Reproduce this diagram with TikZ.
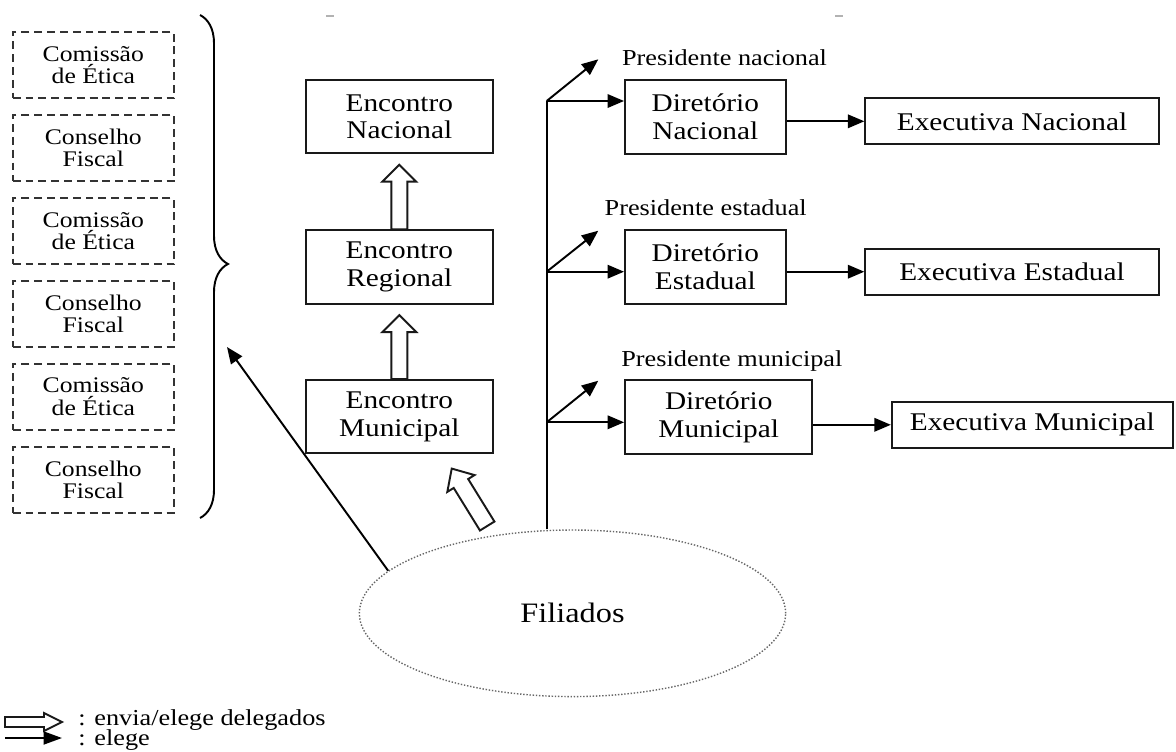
\documentclass[tikz,border=0pt]{standalone}
\usepackage{fontspec}
\setmainfont{Liberation Serif}[FakeStretch=1.15]
\usetikzlibrary{arrows.meta,decorations.pathreplacing,shapes.geometric,calc}
\begin{document}
\begin{tikzpicture}[x=0.02cm,y=-0.02cm,
  box/.style={draw=black!90, line width=1.1pt, inner sep=0pt, align=center, font=\fontsize{14.5pt}{15.8pt}\selectfont},
  dbox/.style={draw=black!80, line width=1.05pt, dash pattern=on 4.5pt off 2.8pt, minimum width=3.226cm, minimum height=1.32cm, inner sep=0pt, align=center, font=\fontsize{12.7pt}{12.7pt}\selectfont},
  enc/.style={box, minimum width=3.746cm, minimum height=1.466cm},
  dir/.style={box, minimum height=1.48cm},
  exe/.style={box, minimum height=0.92cm},
  pres/.style={anchor=base west, inner sep=0pt, font=\fontsize{13pt}{15pt}\selectfont},
  legtext/.style={anchor=base west, inner sep=0pt, font=\fontsize{13pt}{15pt}\selectfont},
  elege/.style={draw=black, line width=1.1pt, -{Triangle[length=0.33cm,width=0.27cm]}},
  hollow/.style={draw=black!90, line width=1.1pt, fill=white},
  pics/harrow/.style n args={4}{code={\path[hollow] (0,-#2) -- ({#1-#4},-#2) -- ({#1-#4},-#3) -- (#1,0) -- ({#1-#4},#3) -- ({#1-#4},#2) -- (0,#2) -- cycle;}}
]
\useasboundingbox (0,0) rectangle (1176,751);
\clip (0,0) rectangle (1176,751);

% small grey marks at the top
\draw[gray!60, line width=1pt] (326,16) -- (334,16);
\draw[gray!60, line width=1pt] (835,16) -- (843,16);

% dashed boxes
\node[dbox] (d1) at (93.35,65.3) {Comissão\\de Ética};
\node[dbox] (d2) at (93.35,148) {Conselho\\Fiscal};
\node[dbox] (d3) at (93.35,231.3) {Comissão\\de Ética};
\node[dbox] (d4) at (93.35,313.8) {Conselho\\Fiscal};
\node[dbox] (d5) at (93.35,396.7) {Comissão\\de Ética};
\node[dbox] (d6) at (93.35,479.7) {Conselho\\Fiscal};

% brace
\coordinate (bt) at (200,15);
\coordinate (bb) at (200,518);
\draw[line width=1.1pt, decorate, decoration={brace, amplitude=0.56cm, aspect=0.495}] (bt) -- (bb);

% encontros
\node[enc] (en) at (399.3,116.7) {Encontro\\Nacional};
\node[enc] (er) at (399.3,267) {Encontro\\Regional};
\node[enc] (em) at (399.3,416.7) {Encontro\\Municipal};

% diretorios
\node[dir, minimum width=3.213cm] (dn) at (705.3,117) {Diretório\\Nacional};
\node[dir, minimum width=3.213cm] (de) at (705.3,267) {Diretório\\Estadual};
\node[dir, minimum width=3.746cm] (dm) at (718.7,417.2) {Diretório\\Municipal};

% executivas
\node[exe, minimum width=5.87cm] (xn) at (1012,121.3) {Executiva Nacional};
\node[exe, minimum width=5.87cm] (xe) at (1012,271.7) {Executiva Estadual};
\node[exe, minimum width=5.62cm] (xm) at (1032.3,424.8) {Executiva Municipal};

% filiados
\node[ellipse, draw=black!60, densely dotted, line width=0.8pt, minimum width=8.528cm, minimum height=3.332cm, inner sep=0pt, font=\fontsize{16pt}{18pt}\selectfont] (fil) at (572.5,613.3) {Filiados};

% trunk and branches
\coordinate (t1) at (546.7,101);
\coordinate (t2) at (546.7,271.7);
\coordinate (t3) at (546.7,422.3);
\draw[line width=1.1pt] (t1 |- fil.north) -- (t1);
\draw[elege] (t1) -- (t1 -| dn.west);
\draw[elege] (t2) -- (t2 -| de.west);
\draw[elege] (t3) -- (t3 -| dm.west);

\coordinate (p1) at (598.3,59.3);
\coordinate (p2) at (598.3,230.7);
\coordinate (p3) at (598.3,380.7);
\draw[elege] (t1) -- (p1);
\draw[elege] (t2) -- (p2);
\draw[elege] (t3) -- (p3);

\node[pres] (l1) at (621.7,65.7) {Presidente nacional};
\node[pres] (l2) at (604.3,215.7) {Presidente estadual};
\node[pres] (l3) at (621,366) {Presidente municipal};

\draw[elege] (dn.east |- xn.west) -- (xn.west);
\draw[elege] (de.east |- xe.west) -- (xe.west);
\draw[elege] (dm.east |- xm.west) -- (xm.west);

% filiados to councils
\coordinate (bp) at (227,347);
\draw[elege] (fil.167.8) -- (bp);

% hollow arrows (delegates)
\pic[rotate=90] at (er.north) {harrow={64.7}{8}{17}{17}};
\pic[rotate=90] at (em.north) {harrow={64}{8}{17}{17}};
\pic[rotate=121.7] at ($(fil.north)+(-85.3,-3.3)$) {harrow={67.5}{8.5}{16}{17.5}};

% legend
\coordinate (lg1) at (5,722);
\pic at (lg1) {harrow={57}{5}{9}{18}};
\coordinate (lg2) at (5,738);
\coordinate (lg2e) at (62,738);
\draw[line width=1.1pt, -{Triangle[length=0.37cm,width=0.26cm]}] (lg2) -- (lg2e);
\node[legtext] (lt1) at (78,725) {: envia/elege delegados};
\node[legtext] (lt2) at (78,745.5) {: elege};
\end{tikzpicture}
\end{document}
